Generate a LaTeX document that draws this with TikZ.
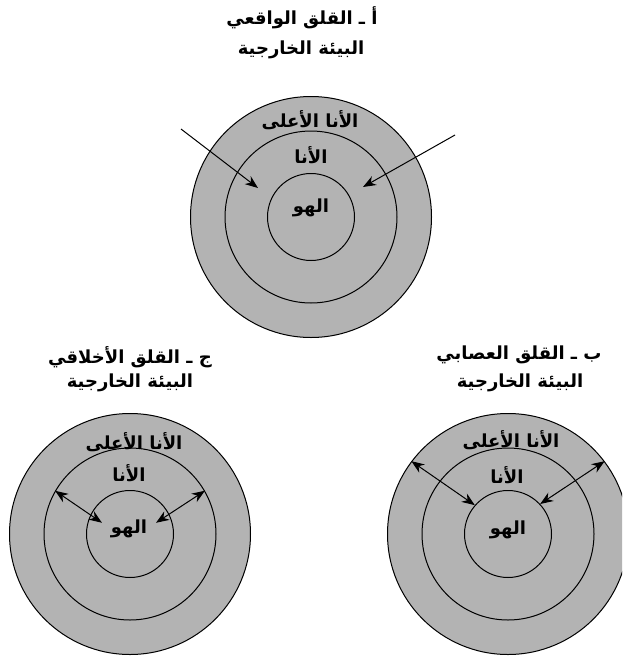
\documentclass[tikz,border=0pt]{standalone}
\usepackage{fontspec}
\newfontfamily\arabicfont[Script=Arabic]{DejaVu Sans}
\TeXXeTstate=1
\usetikzlibrary{arrows.meta}
\definecolor{ringgray}{RGB}{179,179,179}
\tikzset{
  ring/.style={circle, draw=black, fill=ringgray, line width=1pt, inner sep=0pt, minimum size=#1},
  lbl/.style={font=\arabicfont\bfseries\fontsize{18}{20}\selectfont, inner sep=0pt},
  arr/.style={-{Stealth[length=13pt,width=10pt]}, line width=1pt},
  darr/.style={{Stealth[length=13pt,width=10pt]}-{Stealth[length=13pt,width=10pt]}, line width=1pt},
}
\begin{document}
\begin{tikzpicture}[x=1pt,y=-1pt]
\useasboundingbox (0,0) rectangle (622,656);
\clip (0,0) rectangle (622,656);
% ---- A: top
\node[ring=241] (outA) at (311,217) {};
\node[ring=172] (midA) at (311,217) {};
\node[ring=87]  (inA)  at (311,217) {};
\node[lbl] (tA1) at (302,18) {\beginR أ ـ القلق الواقعي\endR};
\node[lbl] (tA2) at (301,50) {\beginR البيئة الخارجية\endR};
\node[lbl] (supA) at (310,120) {\beginR الأنا الأعلى\endR};
\node[lbl] (egoA) at (311,155) {\beginR الأنا\endR};
\node[lbl] (idA)  at (311,208) {\beginR الهو\endR};
\coordinate (sA1) at (181,129);
\coordinate (eA1) at (258,188);
\coordinate (sA2) at (455,135);
\coordinate (eA2) at (363,187);
\draw[arr] (sA1) -- (eA1);
\draw[arr] (sA2) -- (eA2);
% ---- C: bottom left
\node[ring=241] (outC) at (130,534) {};
\node[ring=172] (midC) at (130,534) {};
\node[ring=87]  (inC)  at (130,534) {};
\node[lbl] (tC1) at (130,357) {\beginR ج ـ القلق الأخلاقي\endR};
\node[lbl] (tC2) at (130,383) {\beginR البيئة الخارجية\endR};
\node[lbl] (supC) at (134,442) {\beginR الأنا الأعلى\endR};
\node[lbl] (egoC) at (129,473) {\beginR الأنا\endR};
\node[lbl, outer sep=9pt] (idC) at (129,529) {\beginR الهو\endR};
\draw[darr] (midC.150) -- (idC.167);
\draw[darr] (midC.30) -- (idC.13);
% ---- B: bottom right
\node[ring=241] (outB) at (508,534) {};
\node[ring=172] (midB) at (508,534) {};
\node[ring=87]  (inB)  at (508,534) {};
\node[lbl] (tB1) at (519,355) {\beginR ب ـ القلق العصابي\endR};
\node[lbl] (tB2) at (520,383) {\beginR البيئة الخارجية\endR};
\node[lbl] (supB) at (511,440) {\beginR الأنا الأعلى\endR};
\node[lbl] (egoB) at (507,475) {\beginR الأنا\endR};
\node[lbl] (idB)  at (508,530) {\beginR الهو\endR};
\draw[darr] (outB.143) -- (inB.139);
\draw[darr] (outB.37) -- (inB.43);
\end{tikzpicture}
\end{document}
